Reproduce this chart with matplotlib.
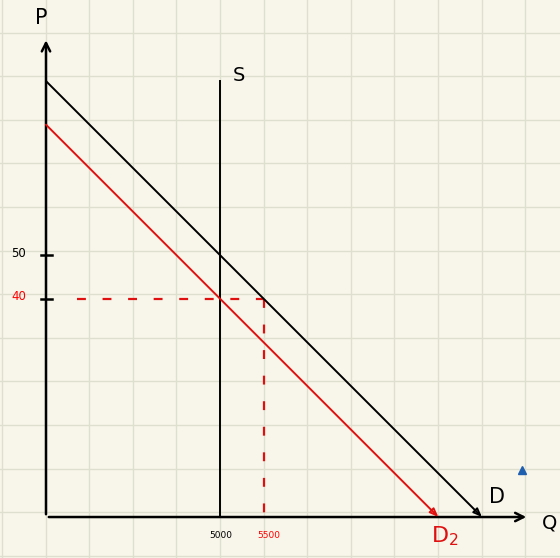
import numpy as np
import matplotlib.pyplot as plt

# chart units: one grid square of the paper = 1 unit, origin at the axes corner
supply_q = [4, 4]
supply_p = [0, 10]
demand_q = [0, 10]
demand_p = [10, 0]
demand2_q = [0, 9]
demand2_p = [9, 0]

eq_q = 5       # new quantity (5500)
eq_p = 5       # new price (40)

p_ticks = [6, 5]
p_labels = ['50', '40']
p_colors = ['black', 'red']
q_ticks = [4, 5]
q_labels = ['5000', '5500']
q_colors = ['black', 'red']

BG = '#f8f6ea'
GRID = '#dfdfd0'
RED = '#e01010'

fig = plt.figure(figsize=(5.6, 5.58), dpi=100, facecolor=BG)
ax = fig.add_axes([0, 0, 1, 1])
ax.set_facecolor(BG)
ax.set_xlim(-1.055, 11.79)
ax.set_ylim(-0.94, 11.86)
for s in ax.spines.values():
    s.set_visible(False)
ax.set_xticks([])
ax.set_yticks([])

# paper grid
for gx in np.arange(-1, 12):
    ax.axvline(gx - 0.01, color=GRID, lw=1.0, zorder=0)
for gy in np.arange(-1, 12):
    ax.axhline(gy + 0.11, color=GRID, lw=1.0, zorder=0)

# axes with open arrowheads
ax.annotate('', xy=(0, 11.0), xytext=(0, 0),
            arrowprops=dict(arrowstyle='->,head_length=0.6,head_width=0.3', lw=1.8, color='black'))
ax.annotate('', xy=(11.08, 0), xytext=(0, 0),
            arrowprops=dict(arrowstyle='->,head_length=0.6,head_width=0.3', lw=1.8, color='black'))
ax.text(-0.1, 11.45, 'P', fontsize=15, ha='center', va='center')
ax.text(11.55, -0.13, 'Q', fontsize=14, ha='center', va='center')

# supply
ax.plot(supply_q, supply_p, color='black', lw=1.4)
ax.text(4.42, 10.12, 'S', fontsize=14, ha='center', va='center')

# demand curves
ax.annotate('', xy=(demand_q[1], demand_p[1]), xytext=(demand_q[0], demand_p[0]),
            arrowprops=dict(arrowstyle='-|>,head_length=0.5,head_width=0.2', lw=1.4,
                            color='black', fc='none', shrinkA=0, shrinkB=0))
ax.annotate('', xy=(demand2_q[1], demand2_p[1]), xytext=(demand2_q[0], demand2_p[0]),
            arrowprops=dict(arrowstyle='-|>,head_length=0.5,head_width=0.2', lw=1.4,
                            color=RED, fc='none', shrinkA=0, shrinkB=0))
ax.text(10.35, 0.45, 'D', fontsize=15, ha='center', va='center')
ax.text(9.15, -0.45, 'D$_2$', fontsize=16, color=RED, ha='center', va='center')

# red dashed guides
ax.plot([0.7, eq_q], [eq_p, eq_p], color=RED, lw=1.6, dashes=(4, 7.5))
ax.plot([eq_q, eq_q], [eq_p, 0], color=RED, lw=1.6, dashes=(4, 7.5))

# tick marks and labels
for t, lab, c in zip(p_ticks, p_labels, p_colors):
    ax.plot([-0.12, 0.14], [t, t], color='black', lw=1.8)
    ax.text(-0.62, t + 0.05, lab, fontsize=8.5, color=c, ha='center', va='center')
for t, lab, c in zip(q_ticks, q_labels, q_colors):
    ax.text(t + (0.02 if c == 'black' else 0.12), -0.42, lab, fontsize=6.5,
            color=c, ha='center', va='center')

# small blue pen mark
ax.plot([10.92], [1.08], marker='^', ms=6, color='#1f5fb0')

fig.savefig('out.png', dpi=100, facecolor=BG)
